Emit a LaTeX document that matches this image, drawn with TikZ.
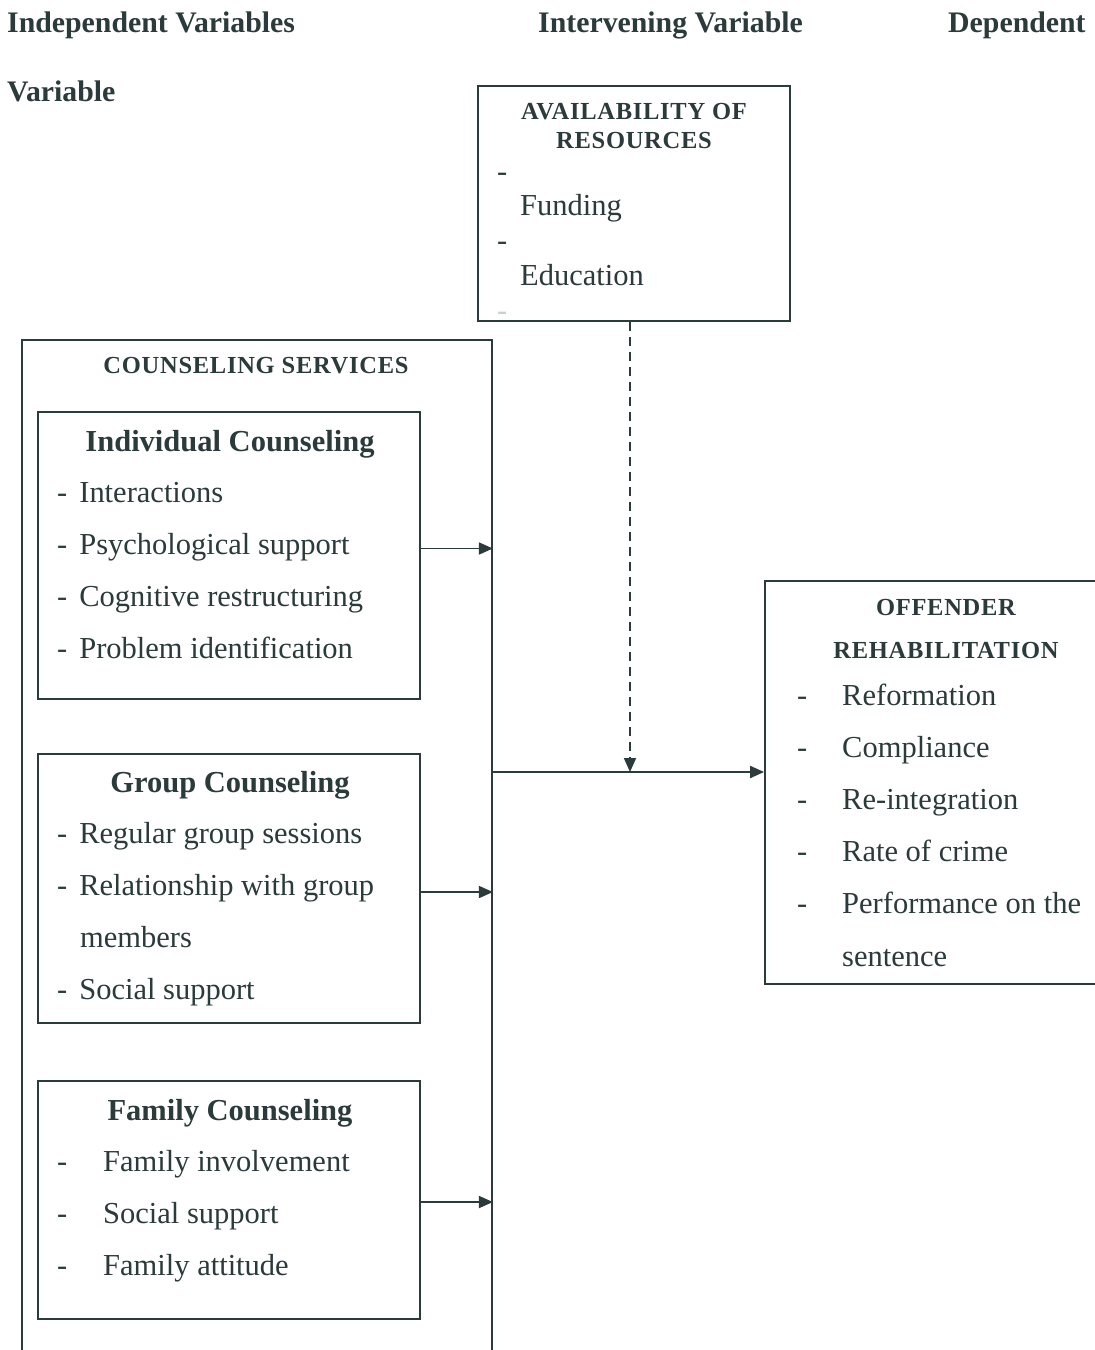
\documentclass[tikz,border=0pt]{standalone}
\usepackage{fontspec}
\setmainfont{Liberation Serif}
\usetikzlibrary{arrows.meta}
\definecolor{ink}{HTML}{2B3A3A}
\tikzset{
  box/.style={draw=ink,line width=1.8pt,rectangle,inner sep=0pt},
  head/.style={anchor=base west,inner sep=0pt,text=ink,font=\fontsize{29.8}{34}\selectfont\bfseries},
  caps/.style={anchor=base,inner sep=0pt,text=ink,font=\fontsize{24.5}{30}\selectfont\bfseries\addfontfeatures{LetterSpace=3}},
  title/.style={anchor=base,inner sep=0pt,text=ink,font=\fontsize{30.5}{36}\selectfont\bfseries},
  item/.style={anchor=base west,inner sep=0pt,text=ink,font=\fontsize{30.5}{36}\selectfont},
  flow/.style={draw=ink,line width=1.8pt,-{Triangle[length=14pt,width=12pt]}},
}
\begin{document}
\begin{tikzpicture}[x=1pt,y=-1pt]
\clip (0,0) rectangle (1095,1350);
\fill[white] (0,0) rectangle (1095,1350);

% headings
\node[head] (hind) at (7,32) {Independent Variables};
\node[head] (hvar) at (7,101) {Variable};
\node[head] (hint) at (538,32) {Intervening Variable};
\node[head] (hdep) at (948,32) {Dependent};

% intervening variable
\node[box,minimum width=312pt,minimum height=235pt] (resources) at (634,203.5) {};
\node[caps] (rest1) at (634,119) {AVAILABILITY OF};
\node[caps] (rest2) at (634,148) {RESOURCES};
\node[item] (resd1) at (497,181) {-};
\node[item] (res1) at (520,215) {Funding};
\node[item] (resd2) at (497,250) {-};
\node[item] (res2) at (520,285) {Education};
\node[item,text=ink!25] (resd3) at (497,320) {-};

% independent variables
\node[box,minimum width=470pt,minimum height=1040pt] (services) at (257,860) {};
\node[caps] (sert) at (256,373) {COUNSELING SERVICES};

\node[box,minimum width=382pt,minimum height=287pt] (indiv) at (229,555.5) {};
\node[title] (indt) at (230,451) {Individual Counseling};
\foreach \txt [count=\i] in {Interactions,Psychological support,Cognitive restructuring,Problem identification}
  \node[item] (ind\i) at (57,450+52*\i) {-\hspace{12pt}\txt};

\node[box,minimum width=382pt,minimum height=269pt] (group) at (229,888.5) {};
\node[title] (grpt) at (230,792) {Group Counseling};
\node[item] (grp1) at (57,843) {-\hspace{12pt}Regular group sessions};
\node[item] (grp2) at (57,895) {-\hspace{12pt}Relationship with group};
\node[item] (grp3) at (80,947) {members};
\node[item] (grp4) at (57,999) {-\hspace{12pt}Social support};

\node[box,minimum width=382pt,minimum height=238pt] (family) at (229,1200) {};
\node[title] (famt) at (230,1120) {Family Counseling};
\foreach \txt [count=\i] in {Family involvement,Social support,Family attitude} {
  \node[item] (famd\i) at (57,1119+52*\i) {-};
  \node[item] (fam\i) at (103,1119+52*\i) {\txt};
}

% dependent variable
\node[box,minimum width=345pt,minimum height=403pt] (offender) at (937.5,782.5) {};
\node[caps] (offt1) at (946,615) {OFFENDER};
\node[caps] (offt2) at (946,658) {REHABILITATION};
\foreach \txt [count=\i] in {Reformation,Compliance,Re-integration,Rate of crime,Performance on the} {
  \node[item] (offd\i) at (797,653+52*\i) {-};
  \node[item] (off\i) at (842,653+52*\i) {\txt};
}
\node[item] (off6) at (842,966) {sentence};

% connectors
\coordinate (a1) at ([yshift=7pt]indiv.east);
\coordinate (a2) at ([yshift=-3.5pt]group.east);
\coordinate (a3) at ([yshift=-2pt]family.east);
\draw[flow] (a1) -- (a1 -| services.east);
\draw[flow] (a2) -- (a2 -| services.east);
\draw[flow] (a3) -- (a3 -| services.east);
\coordinate (join) at (services.east |- 0,772);
\draw[flow] (join) -- (join -| offender.west);
\coordinate (drop) at ([xshift=-4pt]resources.south);
\draw[flow,dashed,dash pattern=on 9pt off 6pt] (drop) -- (drop |- join);
\end{tikzpicture}
\end{document}
